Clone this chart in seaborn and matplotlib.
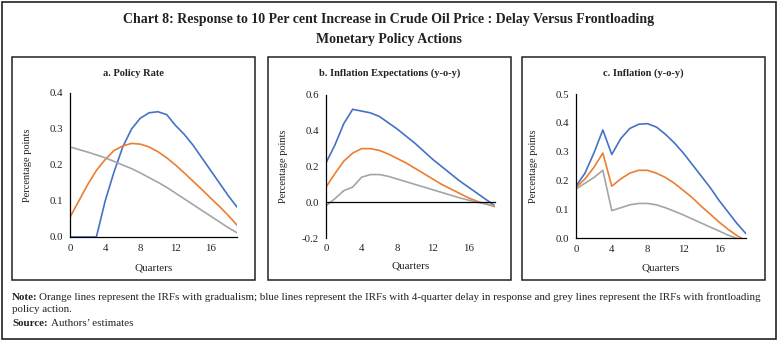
import matplotlib
matplotlib.use("Agg")
import matplotlib.pyplot as plt
import seaborn as sns
import pandas as pd
from matplotlib.patches import Rectangle

# ---------------- data ----------------
quarters = list(range(20))
series_names = ["Delay", "Gradualism", "Frontloading"]

policy_delay = [0, 0, 0, 0, 0.10, 0.18, 0.25, 0.30, 0.33, 0.345, 0.348, 0.34, 0.31,
                0.285, 0.255, 0.22, 0.185, 0.15, 0.115, 0.083]
policy_grad = [0.055, 0.10, 0.145, 0.185, 0.215, 0.24, 0.253, 0.26, 0.258, 0.25, 0.237,
               0.22, 0.20, 0.178, 0.155, 0.132, 0.108, 0.085, 0.06, 0.033]
policy_front = [0.25, 0.243, 0.236, 0.228, 0.22, 0.21, 0.20, 0.19, 0.178, 0.165, 0.152,
                0.138, 0.122, 0.106, 0.09, 0.074, 0.058, 0.042, 0.026, 0.012]

expect_delay = [0.22, 0.32, 0.44, 0.52, 0.51, 0.50, 0.48, 0.445, 0.41, 0.37, 0.33, 0.285,
                0.24, 0.20, 0.16, 0.12, 0.085, 0.05, 0.015, -0.02]
expect_grad = [0.085, 0.16, 0.23, 0.275, 0.30, 0.30, 0.29, 0.27, 0.245, 0.22, 0.19, 0.16,
               0.13, 0.10, 0.075, 0.05, 0.025, 0.005, -0.01, -0.025]
expect_front = [-0.02, 0.02, 0.065, 0.085, 0.14, 0.155, 0.155, 0.145, 0.13, 0.115, 0.10,
                0.085, 0.07, 0.055, 0.04, 0.025, 0.012, 0.0, -0.01, -0.02]

infl_delay = [0.18, 0.225, 0.295, 0.375, 0.29, 0.345, 0.38, 0.395, 0.397, 0.385, 0.36,
              0.33, 0.295, 0.255, 0.215, 0.175, 0.13, 0.09, 0.05, 0.015]
infl_grad = [0.175, 0.205, 0.245, 0.295, 0.18, 0.205, 0.225, 0.235, 0.235, 0.225, 0.21,
             0.19, 0.165, 0.14, 0.11, 0.083, 0.055, 0.03, 0.008, -0.01]
infl_front = [0.17, 0.19, 0.21, 0.235, 0.095, 0.105, 0.115, 0.12, 0.12, 0.115, 0.105,
              0.093, 0.08, 0.066, 0.052, 0.038, 0.024, 0.01, -0.002, -0.015]

panel_titles = ["a. Policy Rate", "b. Inflation Expectations (y-o-y)", "c. Inflation (y-o-y)"]
x_ticks = [0, 4, 8, 12, 16]
y_ticks_a = [0.0, 0.1, 0.2, 0.3, 0.4]
y_ticks_b = [-0.2, 0.0, 0.2, 0.4, 0.6]
y_ticks_c = [0.0, 0.1, 0.2, 0.3, 0.4, 0.5]

main_title = ("Chart 8: Response to 10 Per cent Increase in Crude Oil Price : Delay Versus Frontloading\n"
              "Monetary Policy Actions")
note_text = ("Orange lines represent the IRFs with gradualism; blue lines represent the IRFs with "
             "4-quarter delay in response and grey lines represent the IRFs with frontloading")
note_text2 = "policy action."
source_text = "Authors\u2019 estimates"

palette = {"Delay": "#4472C4", "Gradualism": "#ED7D31", "Frontloading": "#A5A5A5"}


def make_df(d, g, f):
    rows = []
    for name, vals in zip(series_names, [d, g, f]):
        for q, v in zip(quarters, vals):
            rows.append({"Quarter": q, "Value": v, "Series": name})
    return pd.DataFrame(rows)


panels = [
    (make_df(policy_delay, policy_grad, policy_front), y_ticks_a),
    (make_df(expect_delay, expect_grad, expect_front), y_ticks_b),
    (make_df(infl_delay, infl_grad, infl_front), y_ticks_c),
]

# ---------------- figure ----------------
sns.set_style("white")
plt.rcParams["font.family"] = ["Liberation Serif", "DejaVu Serif"]

W, H = 778, 341
fig = plt.figure(figsize=(W / 100, H / 100), dpi=100)


def fx(px):
    return px / W


def fy(py):
    return 1 - py / H


# outer border
fig.add_artist(Rectangle((fx(2), fy(339)), fx(774), 337 / H, transform=fig.transFigure,
                         fill=False, edgecolor="#222222", linewidth=1.2))
# panel boxes (left, right)
boxes = [(12, 255), (268, 511), (522, 765)]
for (l, r) in boxes:
    fig.add_artist(Rectangle((fx(l), fy(280)), fx(r - l), 223 / H, transform=fig.transFigure,
                             fill=False, edgecolor="#222222", linewidth=1.1))

# axes rectangles: left, right, top, bottom (pixels)
axes_px = [(70, 237, 93, 237), (326, 495, 95, 238), (576, 746, 94, 238)]

for i, ((df, yt), (l, r, t, b)) in enumerate(zip(panels, axes_px)):
    ax = fig.add_axes([fx(l), fy(b), fx(r - l), (b - t) / H])
    sns.lineplot(data=df, x="Quarter", y="Value", hue="Series", palette=palette,
                 hue_order=series_names, ax=ax, linewidth=1.2, legend=False)
    ax.set_xlim(0, 19)
    ax.set_ylim(yt[0], yt[-1])
    ax.set_yticks(yt)
    ax.set_yticklabels([f"{v:.1f}" for v in yt])
    ax.set_xticks(x_ticks)
    for s in ["top", "right"]:
        ax.spines[s].set_visible(False)
    for s in ["left", "bottom"]:
        ax.spines[s].set_color("black")
        ax.spines[s].set_linewidth(0.9)
    ax.tick_params(axis="both", direction="out", length=3, width=0.8, color="black",
                   labelsize=7.8, pad=2, labelcolor="#222222")
    ax.set_ylabel("Percentage points", fontsize=7.5, color="#222222")
    ax.yaxis.set_label_coords(-38 / (r - l), 0.5)
    ax.set_xlabel("Quarters", fontsize=8, color="#222222")
    ax.xaxis.set_label_coords(0.5, -26 / (b - t))
    ax.patch.set_alpha(0)
    if yt[0] < 0:
        ax.spines["bottom"].set_position(("data", 0))
        ax.tick_params(axis="x", labelbottom=False)
        sec = ax.secondary_xaxis("bottom")
        sec.set_xticks(x_ticks)
        sec.tick_params(length=0, labelsize=7.8, pad=4, labelcolor="#222222")
        sec.spines["bottom"].set_visible(False)
        ax.xaxis.set_label_coords(0.5, -24 / (b - t))
    # panel title centred on its box
    bl, br = boxes[i]
    fig.text(fx((bl + br) / 2), fy(73), panel_titles[i], ha="center", va="center",
             fontsize=7.5, fontweight="bold", color="#222222")

# main title
fig.text(0.5, fy(19), main_title.split("\n")[0], ha="center", va="center", fontsize=10,
         fontweight="bold", color="#222222")
fig.text(0.5, fy(40), main_title.split("\n")[1], ha="center", va="center", fontsize=10,
         fontweight="bold", color="#222222")

# notes
fs = 7.9
fig.text(fx(12), fy(297), "Note:", ha="left", va="center", fontsize=fs,
         fontweight="bold", color="#222222")
fig.text(fx(39), fy(297), note_text, ha="left", va="center", fontsize=fs, color="#222222")
fig.text(fx(12), fy(310), note_text2, ha="left", va="center", fontsize=fs, color="#222222")
fig.text(fx(12), fy(323), "Source:", ha="left", va="center", fontsize=fs,
         fontweight="bold", color="#222222")
fig.text(fx(51), fy(323), source_text, ha="left", va="center", fontsize=fs, color="#222222")

fig.savefig("out.png", dpi=100)
